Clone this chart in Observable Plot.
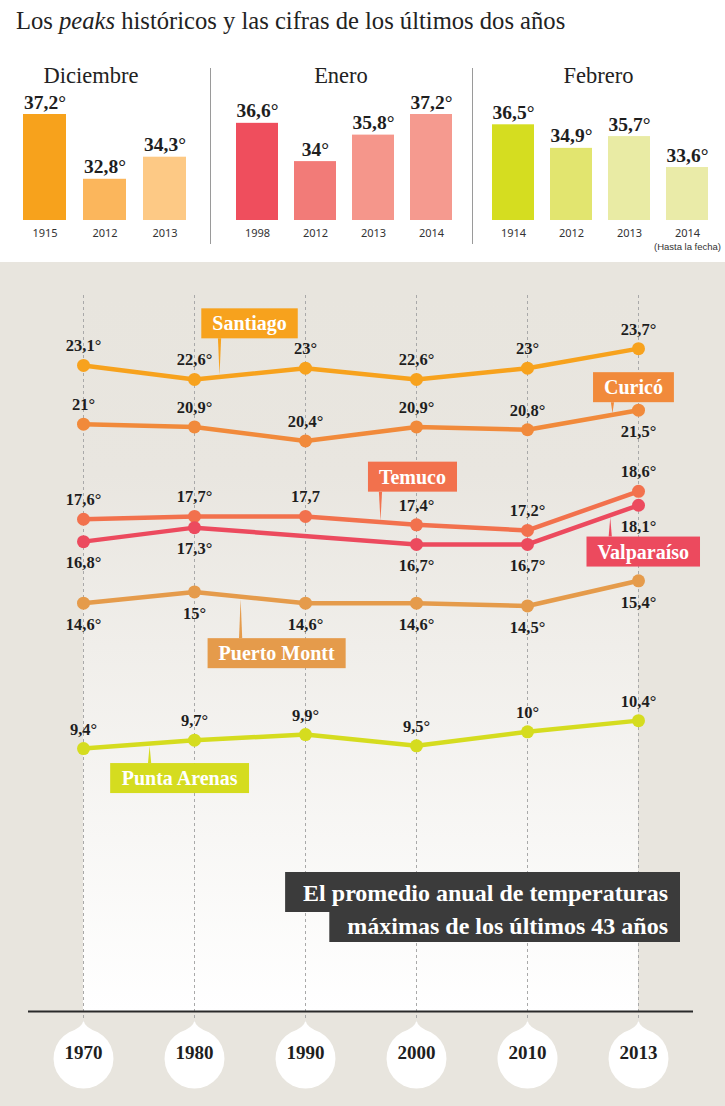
<!DOCTYPE html>
<html>
<head>
<meta charset="utf-8">
<script src="https://cdn.jsdelivr.net/npm/d3@7"></script>
<script src="https://cdn.jsdelivr.net/npm/@observablehq/plot@0.6"></script>
<style>
  body { margin: 0; background: #fff; width: 725px; font-family: "Liberation Serif", serif; color: #222; }
  #top { position: relative; height: 262px; width: 725px; overflow: hidden; background: #fff; }
  #title { position: absolute; left: 16px; top: 9px; font-size: 24.6px; line-height: 24px; white-space: nowrap; color: #222; }
  .grp { position: absolute; top: 65px; }
  .grp h3 { margin: 0; font-weight: normal; font-size: 22.5px; line-height: 22px; height: 25px; text-align: center; color: #222; }
  .grp svg { display: block; }
  .sep { position: absolute; top: 68px; width: 1px; height: 176px; background: #9a9a9a; }
  #lines svg { display: block; }
</style>
</head>
<body>
<div id="top">
  <div id="title">Los <i>peaks</i> históricos y las cifras de los últimos dos años</div>
  <div class="grp" id="g-dic" style="left:0;width:210px"><h3 style="padding-right:28px">Diciembre</h3></div>
  <div class="sep" style="left:210px"></div>
  <div class="grp" id="g-ene" style="left:210px;width:262px"><h3>Enero</h3></div>
  <div class="sep" style="left:472px"></div>
  <div class="grp" id="g-feb" style="left:472px;width:253px"><h3>Febrero</h3></div>
</div>
<div id="lines"></div>
<script>
// ---------- DATA ----------
const decYears = ["1915", "2012", "2013"];
const decValues = [37.2, 32.8, 34.3];
const eneYears = ["1998", "2012", "2013", "2014"];
const eneValues = [36.6, 34, 35.8, 37.2];
const febYears = ["1914", "2012", "2013", "2014"];
const febValues = [36.5, 34.9, 35.7, 33.6];
const febNote = "(Hasta la fecha)";
const barBase = 30;

const years = ["1970", "1980", "1990", "2000", "2010", "2013"];
const santiago = [23.1, 22.6, 23, 22.6, 23, 23.7];
const curico = [21, 20.9, 20.4, 20.9, 20.8, 21.5];
const temuco = [17.6, 17.7, 17.7, 17.4, 17.2, 18.6];
const valparaiso = [16.8, 17.3, null, 16.7, 16.7, 18.1];
const puertoMontt = [14.6, 15, 14.6, 14.6, 14.5, 15.4];
const puntaArenas = [9.4, 9.7, 9.9, 9.5, 10, 10.4];
const seriesNames = ["Santiago", "Curicó", "Temuco", "Valparaíso", "Puerto Montt", "Punta Arenas"];
const degreeOmitted = [["Temuco", "1990"]];
const noteLines = ["El promedio anual de temperaturas", "máximas de los últimos 43 años"];

// ---------- STYLE ----------
const decColors = ["#f7a21c", "#fbb65c", "#fdc985"];
const eneColors = ["#ef4e5d", "#f27b78", "#f5968b", "#f59a8f"];
const febColors = ["#d5dd20", "#e2e56f", "#e9eba4", "#eaeba8"];
const seriesColors = {
  "Santiago": "#f7a21d",
  "Curicó": "#f18a3b",
  "Temuco": "#f2714d",
  "Valparaíso": "#ec4a5e",
  "Puerto Montt": "#e59b4b",
  "Punta Arenas": "#d5dc1f"
};
// label placement: a = above the point, b = below
const labelPlacement = {
  "Santiago": ["a", "a", "a", "a", "a", "a"],
  "Curicó": ["a", "a", "a", "a", "a", "b"],
  "Temuco": ["a", "a", "a", "a", "a", "a"],
  "Valparaíso": ["b", "b", "b", "b", "b", "b"],
  "Puerto Montt": ["b", "b", "b", "b", "b", "b"],
  "Punta Arenas": ["a", "a", "a", "a", "a", "a"]
};

const fmtDeg = v => String(v).replace(".", ",") + "°";
const serif = "'Liberation Serif', serif";

// ---------- TOP BAR CHARTS ----------
const barMax = d3.max([...decValues, ...eneValues, ...febValues]);
function barChart(ys, vs, cs, opts) {
  const data = ys.map((y, i) => ({year: y, value: vs[i], color: cs[i]}));
  const marks = [
    Plot.barY(data, {x: "year", y1: barBase, y2: "value", fill: "color"}),
    Plot.text(data, {x: "year", y: "value", text: d => fmtDeg(d.value), lineAnchor: "bottom", dy: -6,
      fontSize: 19.5, fontWeight: "bold", fill: "#1e1e1e", fontFamily: serif}),
    Plot.axisX({tickSize: 0, tickPadding: 9, fontSize: 11, fontFamily: "'Noto Sans', sans-serif", fill: "#333", label: null})
  ];
  if (opts.note) {
    marks.push(Plot.text([ys[ys.length - 1]], {x: d => d, frameAnchor: "bottom", dy: 29, text: () => opts.note,
      fontSize: 9.5, fontFamily: "'Liberation Sans Narrow', 'Liberation Sans', sans-serif", fill: "#333"}));
  }
  return Plot.plot({
    width: opts.width, height: 172,
    marginTop: 24, marginBottom: 42, marginLeft: opts.ml, marginRight: opts.mr,
    style: {background: "transparent", overflow: "visible", fontFamily: serif},
    x: {type: "band", domain: ys, paddingInner: opts.pi, paddingOuter: 0, axis: null},
    y: {domain: [barBase, barMax], axis: null},
    color: {type: "identity"},
    marks
  });
}
document.getElementById("g-dic").append(barChart(decYears, decValues, decColors, {width: 210, ml: 22, mr: 24, pi: 0.289}));
document.getElementById("g-ene").append(barChart(eneYears, eneValues, eneColors, {width: 262, ml: 24, mr: 18, pi: 0.27}));
document.getElementById("g-feb").append(barChart(febYears, febValues, febColors, {width: 253, ml: 19, mr: 15, pi: 0.27, note: febNote}));

// ---------- LINE CHART ----------
const seriesValues = [santiago, curico, temuco, valparaiso, puertoMontt, puntaArenas];
const rows = [];
seriesNames.forEach((name, si) => {
  seriesValues[si].forEach((v, i) => {
    if (v == null) return;
    const omit = degreeOmitted.some(([s, y]) => s === name && y === years[i]);
    rows.push({series: name, year: years[i], value: v, pos: labelPlacement[name][i],
      label: omit ? String(v).replace(".", ",") : fmtDeg(v)});
  });
});

const teardrop = {
  draw(ctx, size) {
    const R = Math.sqrt(size / Math.PI);
    const a = 0.5;
    const sx = R * Math.sin(a), sy = -R * Math.cos(a);
    ctx.moveTo(0, -R - 8);
    ctx.quadraticCurveTo(1.2, -R - 1, sx, sy);
    ctx.arc(0, 0, R, -Math.PI / 2 + a, -Math.PI / 2 - a, false);
    ctx.quadraticCurveTo(-1.2, -R - 1, 0, -R - 8);
    ctx.closePath();
  }
};

const measureCtx = document.createElement("canvas").getContext("2d");
function textWidth(t, font) { measureCtx.font = font; return measureCtx.measureText(t).width; }

function panelMark(index, scales, values, dim) {
  const g = d3.create("svg:g");
  const x0 = scales.x(years[0]), x1 = scales.x(years[years.length - 1]);
  const yTop = dim.marginTop, yBot = scales.y(0);
  const lg = g.append("defs").append("linearGradient").attr("id", "panelGrad")
    .attr("x1", 0).attr("y1", 0).attr("x2", 0).attr("y2", 1);
  lg.append("stop").attr("offset", "0%").attr("stop-color", "#e8e5de");
  lg.append("stop").attr("offset", "25%").attr("stop-color", "#e9e6e0");
  lg.append("stop").attr("offset", "100%").attr("stop-color", "#ffffff");
  g.append("rect").attr("x", x0).attr("y", yTop).attr("width", x1 - x0).attr("height", yBot - yTop)
    .attr("fill", "url(#panelGrad)");
  return g.node();
}

const callouts = [
  {series: "Santiago", seg: 1, t: 0.23, side: "above", gap: 38, dx: 30},
  {series: "Curicó", seg: 4, t: 0.77, side: "above", gap: 12, dx: 21},
  {series: "Temuco", seg: 2, t: 0.68, side: "above", gap: 30, dx: 32},
  {series: "Valparaíso", seg: 4, t: 0.75, side: "below", gap: 22, dx: 33},
  {series: "Puerto Montt", seg: 1, t: 0.42, side: "below", gap: 42, dx: 36},
  {series: "Punta Arenas", seg: 0, t: 0.6, side: "below", gap: 20, dx: 30}
];

function calloutMark(index, scales) {
  const g = d3.create("svg:g");
  const font = `bold 20px 'Liberation Serif'`;
  const boxH = 30;
  callouts.forEach(c => {
    const vals = seriesValues[seriesNames.indexOf(c.series)];
    const xa = scales.x(years[c.seg]), xb = scales.x(years[c.seg + 1]);
    const ya = scales.y(vals[c.seg]), yb = scales.y(vals[c.seg + 1]);
    const tx = xa + c.t * (xb - xa), ty = ya + c.t * (yb - ya);
    const w = textWidth(c.series, font) + 22;
    const color = seriesColors[c.series];
    let top, edge, tip;
    if (c.side === "above") { top = ty - c.gap - boxH; edge = top + boxH; tip = ty - 1; }
    else { top = ty + c.gap; edge = top; tip = ty + 3; }
    g.append("path").attr("d", `M${tx - 1.6},${edge}L${tx + 1.6},${edge}L${tx},${tip}Z`).attr("fill", color);
    const cx = tx + c.dx;
    g.append("rect").attr("x", cx - w / 2).attr("y", top).attr("width", w).attr("height", boxH).attr("fill", color);
    g.append("text").attr("x", cx).attr("y", top + boxH / 2).attr("dy", "0.35em").attr("text-anchor", "middle")
      .attr("fill", "#fff").attr("font-size", 20).attr("font-weight", "bold").attr("font-family", serif)
      .text(c.series);
  });
  return g.node();
}

function noteMark(index, scales, values, dim) {
  const g = d3.create("svg:g");
  const font = `bold 24px 'Liberation Serif'`;
  const right = scales.x(years[years.length - 1]) + 42;
  const top = dim.height - dim.marginBottom - 139;
  const heights = [40, 30];
  let y = top;
  noteLines.forEach((line, i) => {
    const w = textWidth(line, font) + 30;
    g.append("rect").attr("x", right - w).attr("y", y).attr("width", w).attr("height", heights[i]).attr("fill", "#3b3b3b");
    g.append("text").attr("x", right - 12).attr("y", y + (i === 0 ? 21 : 14)).attr("dy", "0.35em")
      .attr("text-anchor", "end").attr("fill", "#fff").attr("font-size", 24).attr("font-weight", "bold")
      .attr("font-family", serif).text(line);
    y += heights[i];
  });
  return g.node();
}

const labelStyle = {fontSize: 16.5, fontWeight: "bold", fill: "#1e1e1e", fontFamily: serif};

const linePlot = Plot.plot({
  width: 725, height: 844,
  marginTop: 33, marginBottom: 95, marginLeft: 82, marginRight: 87,
  style: {background: "#e8e5de", fontFamily: serif, overflow: "visible"},
  x: {type: "point", domain: years, padding: 0, axis: null},
  y: {domain: [0, 25.6], axis: null},
  color: {type: "identity"},
  marks: [
    panelMark,
    Plot.ruleX(years, {x: d => d, stroke: "#a9a9a9", strokeDasharray: "3,3", strokeWidth: 1, insetBottom: -11}),
    Plot.ruleY([0], {stroke: "#2a2a2a", strokeWidth: 2, insetLeft: -54, insetRight: -55}),
    Plot.dot(years, {x: d => d, frameAnchor: "bottom", dy: 47, r: 30, symbol: teardrop, fill: "#ffffff", stroke: null}),
    Plot.text(years, {x: d => d, frameAnchor: "bottom", dy: 47, text: d => d, fontSize: 19, fontWeight: "bold", fill: "#1e1e1e", fontFamily: serif}),
    noteMark,
    Plot.line(rows, {x: "year", y: "value", z: "series", stroke: d => seriesColors[d.series], strokeWidth: 4.5, strokeLinejoin: "round", strokeLinecap: "round"}),
    Plot.dot(rows, {x: "year", y: "value", fill: d => seriesColors[d.series], r: 6.5}),
    Plot.text(rows.filter(d => d.pos === "a"), {x: "year", y: "value", text: "label", lineAnchor: "bottom", dy: -14, ...labelStyle}),
    Plot.text(rows.filter(d => d.pos === "b"), {x: "year", y: "value", text: "label", lineAnchor: "top", dy: 15, ...labelStyle}),
    calloutMark
  ]
});
document.getElementById("lines").append(linePlot);
</script>
</body>
</html>
